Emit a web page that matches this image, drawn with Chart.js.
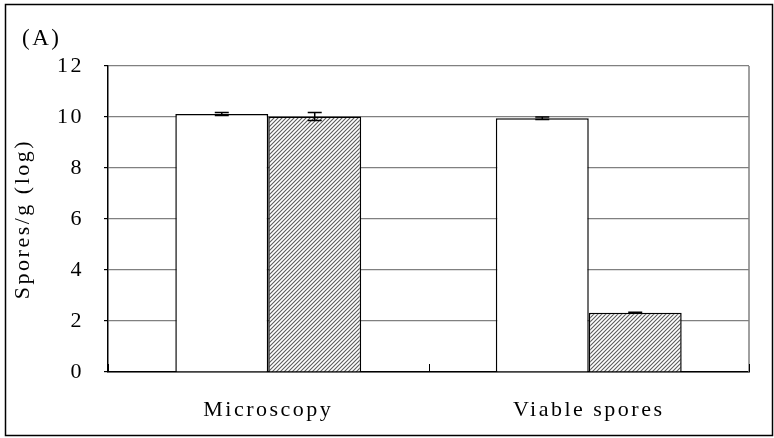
<!DOCTYPE html>
<html>
<head>
<meta charset="utf-8">
<script src="https://cdn.jsdelivr.net/npm/chart.js@4"></script>
<style>
  html, body { margin: 0; padding: 0; background: #fff; }
  #wrap { width: 774px; height: 438px; position: relative; }
</style>
</head>
<body>
<div id="wrap"><canvas id="myCanvas" width="774" height="438"></canvas></div>
<script>
// data
const categories = ['Microscopy', 'Viable spores']
const plainValues = [10.12, 9.95]
const plainErrors = [0.06, 0.05]
const hatchedValues = [10.02, 2.32]
const hatchedErrors = [0.16, 0.02]
const yTicks = [0, 2, 4, 6, 8, 10, 12]

const fontFamily = "'Liberation Serif', 'Times New Roman', serif"

// diagonal hatch fill
function makeHatch() {
    const tile = document.createElement('canvas')
    tile.width = 4
    tile.height = 4
    const c = tile.getContext('2d')
    c.fillStyle = '#fff'
    c.fillRect(0, 0, 4, 4)
    c.strokeStyle = '#5a5a5a'
    c.lineWidth = 1.1
    c.beginPath()
    c.moveTo(-1, 5); c.lineTo(5, -1)
    c.moveTo(-1, 1); c.lineTo(1, -1)
    c.moveTo(3, 5); c.lineTo(5, 3)
    c.stroke()
    return document.getElementById('myCanvas').getContext('2d').createPattern(tile, 'repeat')
}

// error bars, frame, right border, inner category ticks
const extras = {
    id: 'extras',
    beforeDraw(chart) {
        const ctx = chart.ctx
        ctx.letterSpacing = '2.5px'   // the source text is a bit spaced out
        ctx.save()
        ctx.fillStyle = '#fff'
        ctx.fillRect(0, 0, chart.width, chart.height)
        ctx.strokeStyle = '#000'
        ctx.lineWidth = 1.5
        ctx.strokeRect(5.5, 4.5, 767, 431)
        ctx.fillStyle = '#000'
        ctx.font = '23px ' + fontFamily
        ctx.textBaseline = 'middle'
        ctx.fillText('(A)', 22, 39)
        ctx.restore()
    },
    afterDatasetsDraw(chart) {
        const ctx = chart.ctx
        const y = chart.scales.y
        const x = chart.scales.x
        const area = chart.chartArea
        ctx.save()
        ctx.strokeStyle = '#000'
        ctx.lineWidth = 1.5
        const errs = [plainErrors, hatchedErrors]
        chart.data.datasets.forEach((ds, d) => {
            chart.getDatasetMeta(d).data.forEach((bar, i) => {
                const v = ds.data[i]
                const e = errs[d][i]
                const top = y.getPixelForValue(v + e)
                const bot = y.getPixelForValue(v - e)
                ctx.beginPath()
                ctx.moveTo(bar.x, top); ctx.lineTo(bar.x, bot)
                ctx.moveTo(bar.x - 7, top); ctx.lineTo(bar.x + 7, top)
                ctx.moveTo(bar.x - 7, bot); ctx.lineTo(bar.x + 7, bot)
                ctx.stroke()
            })
        })
        // right border
        ctx.strokeStyle = '#808080'
        ctx.lineWidth = 1.5
        ctx.beginPath()
        ctx.moveTo(area.right, area.top); ctx.lineTo(area.right, area.bottom)
        ctx.stroke()
        // category boundary ticks pointing up
        ctx.strokeStyle = '#000'
        ctx.lineWidth = 1
        const step = x.getPixelForValue(1) - x.getPixelForValue(0)
        for (let i = 0; i <= categories.length; i++) {
            const px = Math.round(x.getPixelForValue(i) - step / 2) + 0.5
            ctx.beginPath()
            ctx.moveTo(px, area.bottom); ctx.lineTo(px, area.bottom - 8)
            ctx.stroke()
        }
        ctx.restore()
    }
}

const myChart = document.getElementById('myCanvas').getContext('2d')
Chart.defaults.font.family = fontFamily
Chart.defaults.font.size = 22
Chart.defaults.color = '#000'

new Chart(myChart, {
    type: 'bar',
    data: {
        labels: categories,
        datasets: [{
            label: 'plain',
            data: plainValues,
            backgroundColor: '#fff',
            borderColor: '#000',
            borderWidth: 1.5
        }, {
            label: 'hatched',
            data: hatchedValues,
            backgroundColor: makeHatch(),
            borderColor: '#000',
            borderWidth: 1.5
        }]
    },
    options: {
        responsive: false,
        animation: false,
        events: [],
        layout: { padding: { left: 0, top: 66, right: 25, bottom: 0 } },
        plugins: { legend: { display: false }, tooltip: { enabled: false } },
        datasets: { bar: { categoryPercentage: 0.58, barPercentage: 1 } },
        scales: {
            x: {
                afterFit(scale) { scale.height = 66 },
                grid: { display: false, offset: true },
                border: { color: '#000', width: 1.5 },
                ticks: { padding: 17, font: { size: 22 } }
            },
            y: {
                min: 0,
                max: 12,
                afterFit(scale) { scale.width = 108 },
                afterBuildTicks(scale) { scale.ticks = yTicks.map(v => ({ value: v })) },
                grid: { color: '#808080', lineWidth: 1.2, tickLength: 4, tickColor: '#000' },
                border: { color: '#000', width: 1.5 },
                ticks: { padding: 20, font: { size: 22 } },
                title: {
                    display: true,
                    text: 'Spores/g (log)',
                    font: { size: 22 },
                    padding: { top: 10, bottom: 0 }
                }
            }
        }
    },
    plugins: [extras]
})
</script>
</body>
</html>
